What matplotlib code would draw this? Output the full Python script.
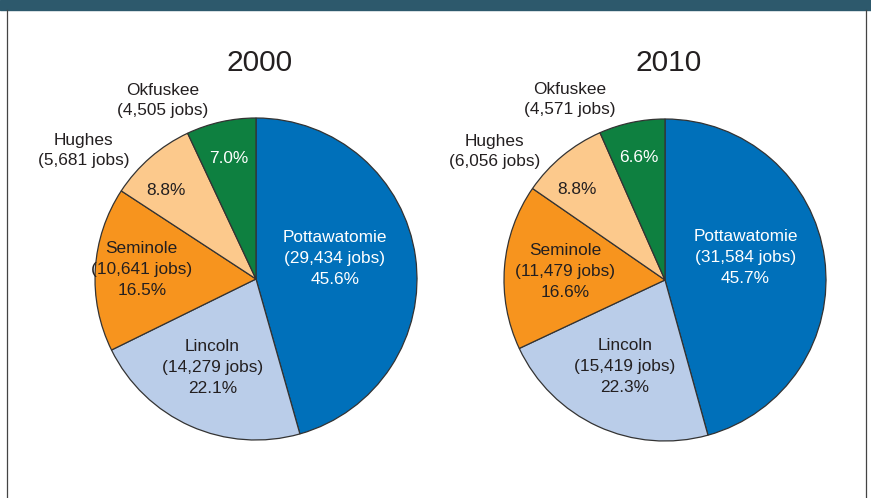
import matplotlib
matplotlib.use("Agg")
import matplotlib.pyplot as plt
from matplotlib.patches import Rectangle
from matplotlib.lines import Line2D

plt.rcParams['font.family'] = ['Liberation Sans', 'DejaVu Sans']

# data
counties = ['Pottawatomie', 'Lincoln', 'Seminole', 'Hughes', 'Okfuskee']
jobs_2000 = [29434, 14279, 10641, 5681, 4505]
jobs_2010 = [31584, 15419, 11479, 6056, 4571]
pct_2000 = ['45.6%', '22.1%', '16.5%', '8.8%', '7.0%']
pct_2010 = ['45.7%', '22.3%', '16.6%', '8.8%', '6.6%']
years = ['2000', '2010']

colors = ['#0070BA', '#BACDE9', '#F7941E', '#FCC98C', '#0E8040']
text_dark = '#231F20'

W, H = 871, 498
fig = plt.figure(figsize=(W / 100, H / 100), dpi=100)

# top band and frame
fig.patches.append(Rectangle((0, 1 - 10 / H), 1, 10 / H, transform=fig.transFigure,
                             color='#2D596C', zorder=0))
fig.lines.append(Line2D([6.5 / W, 6.5 / W], [0, 1 - 10 / H], transform=fig.transFigure,
                        color='#444444', lw=0.9))
fig.lines.append(Line2D([865.5 / W, 865.5 / W], [0, 1 - 10 / H], transform=fig.transFigure,
                        color='#444444', lw=0.9))

# pie geometry (pixels)
centers = [(256, 279), (665, 280)]
radius = 161

# label positions in units of the radius
label_pos = [
    {'Pottawatomie': (0.49, 0.13), 'Lincoln': (-0.27, -0.55), 'Seminole': (-0.71, 0.06),
     'Hughes': (-0.56, 0.55), 'Okfuskee': (-0.17, 0.75),
     'Hughes_out': (-1.07, 0.80), 'Okfuskee_out': (-0.58, 1.11)},
    {'Pottawatomie': (0.50, 0.14), 'Lincoln': (-0.25, -0.54), 'Seminole': (-0.62, 0.05),
     'Hughes': (-0.55, 0.56), 'Okfuskee': (-0.16, 0.76),
     'Hughes_out': (-1.06, 0.80), 'Okfuskee_out': (-0.59, 1.12)},
]

fs = 12.4
ls = 1.5
for i, (jobs, pct) in enumerate([(jobs_2000, pct_2000), (jobs_2010, pct_2010)]):
    cx, cy = centers[i]
    ax = fig.add_axes([(cx - radius) / W, (H - cy - radius) / H, 2 * radius / W, 2 * radius / H])
    ax.pie(jobs, colors=colors, startangle=90, counterclock=False, radius=1,
           wedgeprops=dict(edgecolor='#333333', linewidth=0.9))
    ax.set_xlim(-1, 1)
    ax.set_ylim(-1, 1)
    ax.set_aspect('equal')
    ax.axis('off')

    pos = label_pos[i]
    for name, n, p in zip(counties, jobs, pct):
        txt = f"{name}\n({n:,} jobs)"
        if name == 'Pottawatomie':
            ax.text(*pos[name], f"{txt}\n{p}", color='white', fontsize=fs,
                    ha='center', va='center', linespacing=ls)
        elif name in ('Lincoln', 'Seminole'):
            ax.text(*pos[name], f"{txt}\n{p}", color=text_dark, fontsize=fs,
                    ha='center', va='center', linespacing=ls)
        else:
            c = 'white' if name == 'Okfuskee' else text_dark
            ax.text(*pos[name], p, color=c, fontsize=fs, ha='center', va='center')
            ax.text(*pos[name + '_out'], txt, color=text_dark, fontsize=fs,
                    ha='center', va='center', linespacing=1.42, clip_on=False)

    fig.text((cx + 4) / W, 1 - 63 / H, years[i], fontsize=21.5, color=text_dark,
             ha='center', va='center')

fig.savefig('out.png', dpi=100)
